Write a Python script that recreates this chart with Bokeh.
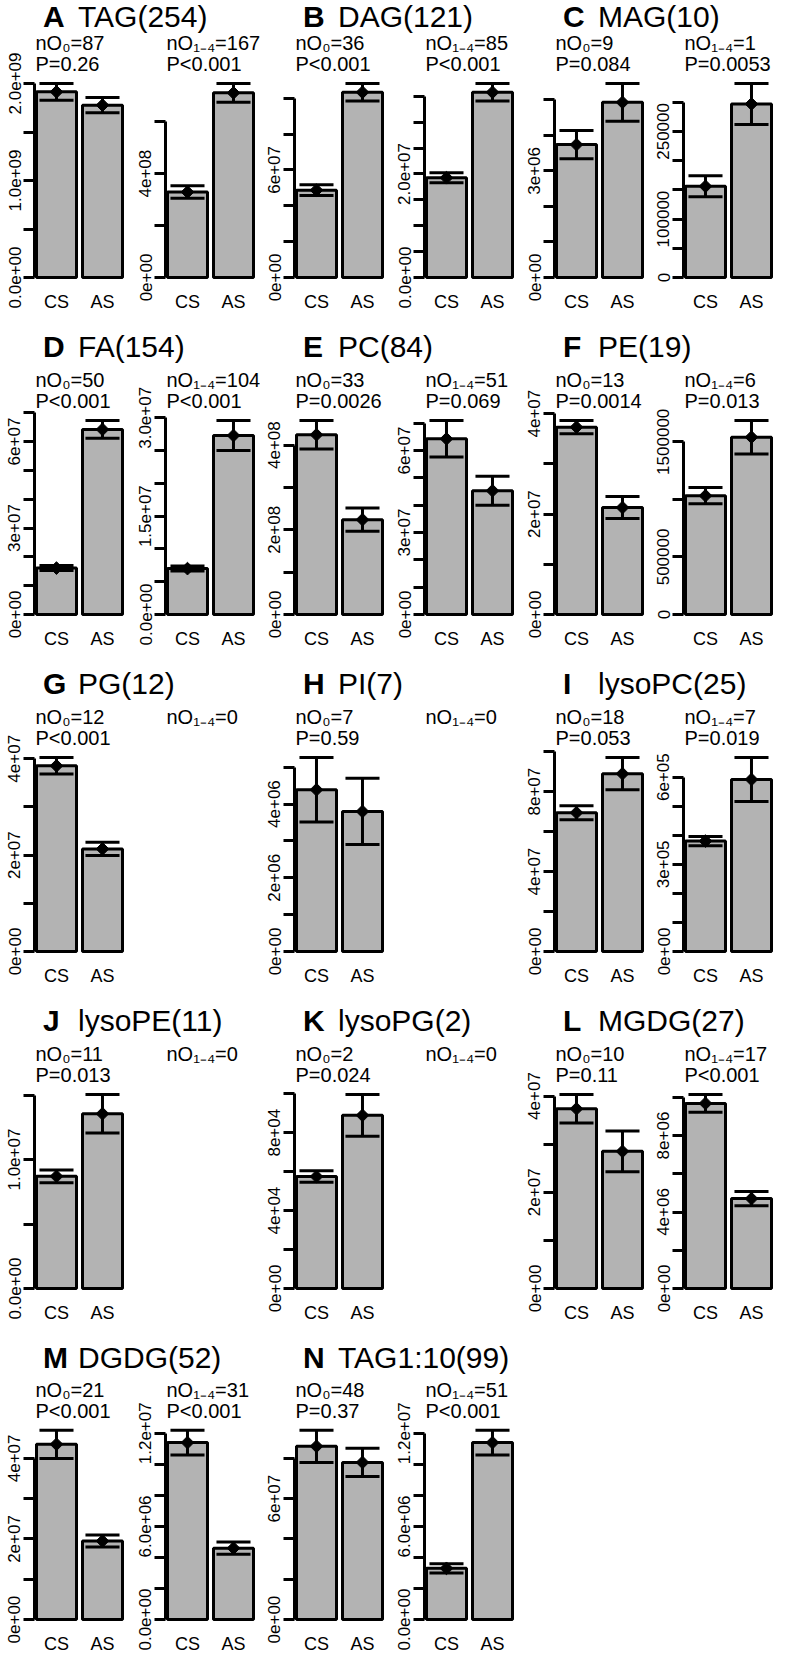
import math
from bokeh.plotting import figure
from bokeh.models import Range1d, FixedTicker, ColumnDataSource, Label, Div
from bokeh.layouts import row, column
from bokeh.embed import file_html
from bokeh.resources import INLINE

# ---------------- data ----------------
letters = list("ABCDEFGHIJKLMN")
names = ["TAG(254)", "DAG(121)", "MAG(10)", "FA(154)", "PC(84)", "PE(19)", "PG(12)",
         "PI(7)", "lysoPC(25)", "lysoPE(11)", "lysoPG(2)", "MGDG(27)", "DGDG(52)", "TAG1:10(99)"]
groups = ["CS", "AS"]

n_o0 = [87, 36, 9, 50, 33, 13, 12, 7, 18, 11, 2, 10, 21, 48]
n_o14 = [167, 85, 1, 104, 51, 6, 0, 0, 7, 0, 0, 17, 31, 51]
p_o0 = ["P=0.26", "P<0.001", "P=0.084", "P<0.001", "P=0.0026", "P=0.0014", "P<0.001",
        "P=0.59", "P=0.053", "P=0.013", "P=0.024", "P=0.11", "P<0.001", "P=0.37"]
p_o14 = ["P<0.001", "P<0.001", "P=0.0053", "P<0.001", "P=0.069", "P=0.013", None,
         None, "P=0.019", None, None, "P<0.001", "P<0.001", "P<0.001"]

# mean and standard error, [CS, AS]
mean_o0 = [[1.914e9, 1.777e9], [4.87e7, 1.033e8], [3.74e6, 4.93e6], [1.61e7, 6.42e7],
           [4.245e8, 2.24e8], [3.73e7, 2.13e7], [3.855e7, 2.13e7], [4.39e6, 3.80e6],
           [6.95e7, 8.90e7], [8.70e6, 1.356e7], [5.75e4, 8.89e4], [3.736e7, 2.85e7],
           [4.35e7, 1.95e7], [8.6e7, 7.8e7]]
se_o0 = [[8.6e7, 7.9e7], [3.0e6, 4.9e6], [4.0e5, 5.3e5], [8.7e5, 3.1e6],
         [3.36e7, 2.77e7], [1.33e6, 2.2e6], [1.72e6, 1.38e6], [8.74e5, 9.0e5],
         [3.5e6, 8.1e6], [4.9e5, 1.49e6], [2.9e3, 1.07e4], [2.96e6, 4.24e6],
         [3.5e6, 1.5e6], [8.0e6, 7.0e6]]
mean_o14 = [[3.29e8, 7.11e8], [1.927e7, 3.577e7], [1.56e5, 2.97e5], [7.0e6, 2.73e7],
            [6.43e7, 4.53e7], [1.032e6, 1.54e6], None, None,
            [3.80e5, 5.92e5], None, None, [9.68e6, 4.70e6],
            [1.14e7, 4.6e6], [3.3e6, 1.14e7]]
se_o14 = [[2.4e7, 3.6e7], [9.6e5, 1.7e6], [1.8e4, 3.5e4], [3.8e5, 2.29e6],
          [6.7e6, 5.3e6], [7.0e4, 1.45e5], None, None,
          [1.6e4, 7.56e4], None, None, [4.65e5, 3.7e5],
          [8.0e5, 4.0e5], [3.0e5, 8.0e5]]

ticks_o0 = [[0, 5e8, 1e9, 1.5e9, 2e9], [0, 2e7, 4e7, 6e7, 8e7, 1e8],
            [0, 1e6, 2e6, 3e6, 4e6, 5e6], [0, 1e7, 2e7, 3e7, 4e7, 5e7, 6e7, 7e7],
            [0, 1e8, 2e8, 3e8, 4e8], [0, 1e7, 2e7, 3e7, 4e7], [0, 1e7, 2e7, 3e7, 4e7],
            [0, 1e6, 2e6, 3e6, 4e6, 5e6], [0, 2e7, 4e7, 6e7, 8e7, 1e8],
            [0, 5e6, 1e7, 1.5e7], [0, 2e4, 4e4, 6e4, 8e4, 1e5],
            [0, 1e7, 2e7, 3e7, 4e7], [0, 1e7, 2e7, 3e7, 4e7], [0, 2e7, 4e7, 6e7, 8e7]]
labels_o0 = [["0.0e+00", "", "1.0e+09", "", "2.0e+09"], ["0e+00", "", "", "6e+07", "", ""],
             ["0e+00", "", "", "3e+06", "", ""], ["0e+00", "", "", "3e+07", "", "", "6e+07", ""],
             ["0e+00", "", "2e+08", "", "4e+08"], ["0e+00", "", "2e+07", "", "4e+07"],
             ["0e+00", "", "2e+07", "", "4e+07"], ["0e+00", "", "2e+06", "", "4e+06", ""],
             ["0e+00", "", "4e+07", "", "8e+07", ""], ["0.0e+00", "", "1.0e+07", ""],
             ["0e+00", "", "4e+04", "", "8e+04", ""], ["0e+00", "", "2e+07", "", "4e+07"],
             ["0e+00", "", "2e+07", "", "4e+07"], ["0e+00", "", "", "6e+07", ""]]
ticks_o14 = [[0, 2e8, 4e8, 6e8], [0, 5e6, 1e7, 1.5e7, 2e7, 2.5e7, 3e7, 3.5e7],
             [0, 5e4, 1e5, 1.5e5, 2e5, 2.5e5, 3e5], [0, 5e6, 1e7, 1.5e7, 2e7, 2.5e7, 3e7],
             [0, 1e7, 2e7, 3e7, 4e7, 5e7, 6e7, 7e7], [0, 5e5, 1e6, 1.5e6], None, None,
             [0, 1e5, 2e5, 3e5, 4e5, 5e5, 6e5], None, None,
             [0, 2e6, 4e6, 6e6, 8e6, 1e7], [0, 2e6, 4e6, 6e6, 8e6, 1e7, 1.2e7],
             [0, 2e6, 4e6, 6e6, 8e6, 1e7, 1.2e7]]
labels_o14 = [["0e+00", "", "4e+08", ""], ["0.0e+00", "", "", "", "2.0e+07", "", "", ""],
              ["0", "", "100000", "", "", "250000", ""],
              ["0.0e+00", "", "", "1.5e+07", "", "", "3.0e+07"],
              ["0e+00", "", "", "3e+07", "", "", "6e+07", ""], ["0", "500000", "", "1500000"],
              None, None, ["0e+00", "", "", "3e+05", "", "", "6e+05"], None, None,
              ["0e+00", "", "4e+06", "", "8e+06", ""],
              ["0.0e+00", "", "", "6.0e+06", "", "", "1.2e+07"],
              ["0.0e+00", "", "", "6.0e+06", "", "", "1.2e+07"]]

# ---------------- layout constants ----------------
SUB_W = [131, 129, 130, 130, 129, 128]
LB = 34            # left border (y axis area)
PX_UNIT = 46.0     # pixels per x unit
X0 = 0.522         # x range start
Y0_OFF = 249       # zero line below subplot top
ERR_PX = 194       # pixel height of the highest error bar
TITLE_H = 28
ROW_H = 337
LAST_ROW_H = 308
BAR_FILL = "#b3b3b3"
FONT = "Liberation Sans"


def title_div(w, letter, name, top):
    html = ('<div style="position:relative;width:%dpx;height:%dpx;">'
            '<span style="position:absolute;left:%dpx;top:%dpx;font-weight:bold;">%s</span>'
            '<span style="position:absolute;left:%dpx;top:%dpx;">%s</span></div>'
            % (w, TITLE_H, LB + 9, top, letter, LB + 44, top, name))
    return Div(text=html, width=w, height=TITLE_H, margin=0,
               styles={"font-family": "'Liberation Sans', Arial, sans-serif",
                       "font-size": "30px", "line-height": "30px", "color": "black",
                       "overflow": "visible"})


def subplot(w, h, means, ses, ticks, labs, ntext, ptext):
    fw = w - LB
    empty = means is None
    ymax = 1.0 if empty else max(m + s for m, s in zip(means, ses))
    k = ERR_PX / ymax
    kw = dict(width=w, height=h, x_range=Range1d(X0, X0 + fw / PX_UNIT),
              y_range=Range1d(-3 / k, Y0_OFF / k), toolbar_location=None,
              output_backend="svg", min_border_left=LB, min_border_right=0,
              min_border_top=0, min_border_bottom=h - (Y0_OFF + 3),
              outline_line_color=None, title=None, sizing_mode="fixed",
              border_fill_color=None, background_fill_color=None)
    if empty:
        p = figure(x_axis_type=None, y_axis_type=None, **kw)
    else:
        p = figure(**kw)
        p.grid.visible = False
        lo = [m - s for m, s in zip(means, ses)]
        hi = [m + s for m, s in zip(means, ses)]
        xs = [1, 2]
        src = ColumnDataSource(dict(x=xs, top=means, lo=lo, hi=hi,
                                    xl=[x - 0.37 for x in xs], xr=[x + 0.37 for x in xs]))
        p.vbar(x="x", top="top", bottom=0, width=0.87, source=src, fill_color=BAR_FILL,
               line_color="black", line_width=3)
        p.segment(x0="x", y0="lo", x1="x", y1="hi", source=src, line_color="black", line_width=3)
        p.segment(x0="xl", y0="hi", x1="xr", y1="hi", source=src, line_color="black", line_width=3)
        p.segment(x0="xl", y0="lo", x1="xr", y1="lo", source=src, line_color="black", line_width=3)
        p.scatter(x="x", y="top", source=src, marker="square", angle=math.pi / 4, size=9,
                  fill_color="black", line_color="black")

        ya = p.yaxis[0]
        ya.ticker = FixedTicker(ticks=ticks)
        ya.major_label_overrides = {t: l for t, l in zip(ticks, labs)}
        ya.bounds = (0, ticks[-1])
        ya.major_label_orientation = "vertical"
        ya.axis_line_width = 3
        ya.major_tick_line_width = 3
        ya.major_tick_out = 11
        ya.major_tick_in = 0
        ya.minor_tick_line_color = None
        ya.major_label_standoff = 3
        ya.major_label_text_font = FONT
        ya.major_label_text_font_size = "17px"
        ya.major_label_text_color = "black"

        xa = p.xaxis[0]
        xa.ticker = FixedTicker(ticks=xs)
        xa.major_label_overrides = {x: g for x, g in zip(xs, groups)}
        xa.axis_line_color = None
        xa.major_tick_line_color = None
        xa.minor_tick_line_color = None
        xa.major_label_standoff = 5
        xa.major_label_text_font = FONT
        xa.major_label_text_font_size = "18px"
        xa.major_label_text_color = "black"

    tx = X0 + 1 / PX_UNIT
    p.add_layout(Label(x=tx, y=235 / k, text=ntext, text_font=FONT, text_font_size="20px",
                       text_baseline="middle", text_align="left", text_color="black"))
    if ptext is not None:
        p.add_layout(Label(x=tx, y=214 / k, text=ptext, text_font=FONT, text_font_size="20px",
                           text_baseline="middle", text_align="left", text_color="black"))
    return p


blocks = []
for r in range(5):
    hs = (ROW_H if r < 4 else LAST_ROW_H) - TITLE_H
    top = 2 if r == 0 else -5
    tdivs, sfigs = [], []
    for c in range(3):
        i = r * 3 + c
        if i >= len(letters):
            continue
        wl, wr = SUB_W[2 * c], SUB_W[2 * c + 1]
        tdivs.append(title_div(wl + wr, letters[i], names[i], top))
        sfigs.append(subplot(wl, hs, mean_o0[i], se_o0[i], ticks_o0[i], labels_o0[i],
                             "nO\u2080=%d" % n_o0[i], p_o0[i]))
        sfigs.append(subplot(wr, hs, mean_o14[i], se_o14[i], ticks_o14[i], labels_o14[i],
                             "nO\u2081\u208b\u2084=%d" % n_o14[i], p_o14[i]))
    blocks.append(row(tdivs))
    blocks.append(row(sfigs))

layout = column(blocks)
open("out.html", "w").write(file_html(layout, INLINE))
